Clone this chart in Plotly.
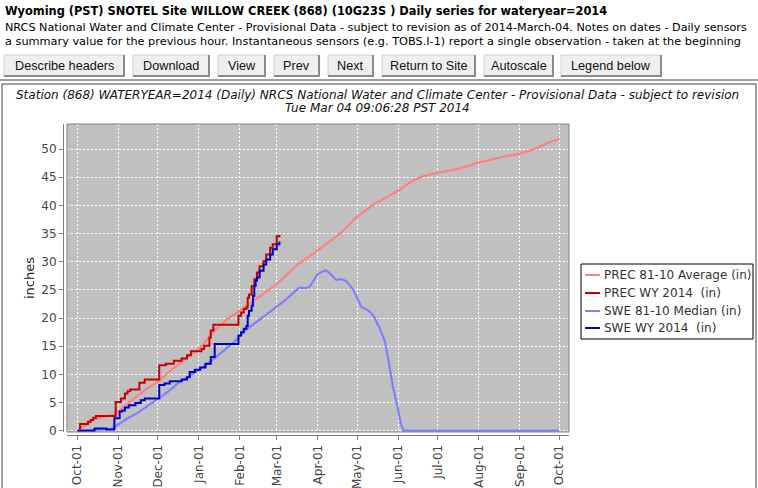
import plotly.graph_objects as go

# ---------------- data ----------------
prec_avg_dates = ["2013-10-01", "2013-10-08", "2013-10-14", "2013-10-29", "2013-11-08", "2013-11-21",
                  "2013-12-02", "2013-12-09", "2013-12-19", "2014-01-01", "2014-01-13", "2014-01-22",
                  "2014-02-01", "2014-02-08", "2014-02-15", "2014-03-01", "2014-03-14", "2014-03-18",
                  "2014-04-01", "2014-04-08", "2014-04-18", "2014-04-28", "2014-05-01", "2014-05-13",
                  "2014-05-23", "2014-06-01", "2014-06-12", "2014-06-20", "2014-07-01", "2014-07-15",
                  "2014-08-01", "2014-08-17", "2014-09-01", "2014-09-11", "2014-09-21", "2014-10-01"]
prec_avg = [0.0, 1.0, 2.0, 2.9, 4.8, 7.2,
            8.9, 10.4, 12.2, 14.5, 17.8, 19.7,
            21.3, 22.5, 23.6, 26.0, 28.9, 29.7,
            32.0, 33.3, 35.0, 37.4, 38.0, 40.1,
            41.4, 42.6, 44.4, 45.2, 45.8, 46.4,
            47.6, 48.5, 49.2, 49.9, 51.0, 51.8]

prec_wy_dates = ["2013-10-01", "2013-10-03", "2013-10-09", "2013-10-11", "2013-10-13", "2013-10-15",
                 "2013-10-30", "2013-11-03", "2013-11-06", "2013-11-08", "2013-11-10", "2013-11-17",
                 "2013-11-21", "2013-12-02", "2013-12-07", "2013-12-13", "2013-12-19", "2013-12-23",
                 "2013-12-26", "2014-01-03", "2014-01-05", "2014-01-09", "2014-01-10", "2014-01-12",
                 "2014-01-31", "2014-02-02", "2014-02-04", "2014-02-06", "2014-02-07", "2014-02-08",
                 "2014-02-10", "2014-02-12", "2014-02-14", "2014-02-16", "2014-02-19", "2014-02-21",
                 "2014-02-24", "2014-02-26", "2014-03-01", "2014-03-03"]
prec_wy = [0.0, 1.2, 1.6, 1.9, 2.3, 2.6,
           5.1, 5.7, 6.6, 7.0, 7.3, 8.5,
           9.1, 11.6, 11.9, 12.4, 12.8, 13.4,
           14.1, 14.5, 15.1, 16.5, 17.8, 18.8,
           20.4, 21.0, 21.6, 21.9, 23.6, 24.2,
           25.7, 26.9, 28.1, 29.2, 30.1, 31.3,
           32.5, 33.1, 34.5, 34.8]

swe_med_dates = ["2013-10-01", "2013-10-14", "2013-10-27", "2013-11-01", "2013-11-08", "2013-11-16",
                 "2013-11-23", "2013-12-01", "2013-12-09", "2013-12-16", "2013-12-24", "2014-01-01",
                 "2014-01-11", "2014-01-21", "2014-01-28", "2014-02-05", "2014-02-15", "2014-02-25",
                 "2014-03-07", "2014-03-14", "2014-03-18", "2014-03-23", "2014-03-26", "2014-04-01",
                 "2014-04-07", "2014-04-10", "2014-04-15", "2014-04-19", "2014-04-23", "2014-04-28",
                 "2014-05-04", "2014-05-09", "2014-05-13", "2014-05-18", "2014-05-22", "2014-05-25",
                 "2014-05-28", "2014-06-01", "2014-06-03", "2014-06-05", "2014-10-01"]
swe_med = [0.0, 0.1, 0.3, 1.1, 2.2, 3.2,
           4.4, 5.7, 7.0, 8.4, 9.6, 10.8,
           12.5, 14.5, 15.8, 17.8, 19.5, 21.3,
           23.1, 24.6, 25.4, 25.3, 25.6, 27.8,
           28.5, 28.0, 26.8, 26.9, 26.5, 25.0,
           22.0, 21.4, 20.5, 18.2, 15.8, 12.0,
           7.8, 3.7, 1.3, 0.0, 0.0]

swe_wy_dates = ["2013-10-01", "2013-10-14", "2013-10-23", "2013-10-29", "2013-11-02", "2013-11-04",
                "2013-11-06", "2013-11-09", "2013-11-14", "2013-11-18", "2013-11-21", "2013-12-02",
                "2013-12-06", "2013-12-10", "2013-12-19", "2013-12-23", "2013-12-25", "2013-12-29",
                "2014-01-02", "2014-01-06", "2014-01-10", "2014-01-13", "2014-01-31", "2014-02-02",
                "2014-02-04", "2014-02-06", "2014-02-07", "2014-02-08", "2014-02-10", "2014-02-11",
                "2014-02-12", "2014-02-13", "2014-02-14", "2014-02-16", "2014-02-19", "2014-02-21",
                "2014-02-24", "2014-02-26", "2014-03-01", "2014-03-03"]
swe_wy = [0.0, 0.4, 0.2, 2.2, 3.4, 3.6,
          4.1, 4.5, 4.9, 5.4, 5.7, 8.1,
          8.4, 8.8, 9.1, 9.5, 10.4, 10.8,
          11.2, 11.9, 13.1, 15.4, 16.9, 17.5,
          18.1, 18.6, 20.4, 21.3, 22.2, 23.9,
          25.7, 26.6, 27.2, 28.4, 29.5, 30.4,
          31.3, 32.2, 33.1, 33.6]

series_names = ["PREC 81-10 Average (in)", "PREC WY 2014  (in)",
                "SWE 81-10 Median (in)", "SWE WY 2014  (in)"]
series_colors = ["#FF8080", "#C80000", "#8080FF", "#0000C8"]

y_ticks = [0, 5, 10, 15, 20, 25, 30, 35, 40, 45, 50]

header_title = "Wyoming (PST) SNOTEL Site WILLOW CREEK (868) (10G23S ) Daily series for wateryear=2014"
header_line2 = ("NRCS National Water and Climate Center - Provisional Data - subject to revision as of "
                "2014-March-04. Notes on dates - Daily sensors")
header_line3 = ("a summary value for the previous hour. Instantaneous sensors (e.g. TOBS.I-1) report a "
                "single observation - taken at the beginning")
buttons = ["Describe headers", "Download", "View", "Prev", "Next", "Return to Site", "Autoscale", "Legend below"]
chart_title1 = ("Station (868) WATERYEAR=2014 (Daily) NRCS National Water and Climate Center - "
                "Provisional Data - subject to revision")
chart_title2 = "Tue Mar 04 09:06:28 PST 2014"

# ---------------- layout geometry (pixels) ----------------
W, H = 758, 488
PAPER_L, PAPER_R, PAPER_T, PAPER_B = 63, 569, 124, 435
PLOT_L, PLOT_B = 67, 432


def px(x):
    return (x - PAPER_L) / (PAPER_R - PAPER_L)


def py(y):
    return (PAPER_B - y) / (PAPER_B - PAPER_T)


fig = go.Figure()
widths = [2.2, 2, 2.2, 2]
shapes_line = ["linear", "hv", "linear", "hv"]
for (xs, ys), name, col, w, shp in zip(
        [(prec_avg_dates, prec_avg), (prec_wy_dates, prec_wy), (swe_med_dates, swe_med), (swe_wy_dates, swe_wy)],
        series_names, series_colors, widths, shapes_line):
    fig.add_trace(go.Scatter(x=xs, y=ys, name=name, mode="lines", showlegend=False,
                             line=dict(color=col, width=w, shape=shp)))

axis_font = dict(family="DejaVu Sans", size=12, color="#444444")
fig.update_layout(
    width=W, height=H,
    margin=dict(l=PAPER_L, r=W - PAPER_R, t=PAPER_T, b=H - PAPER_B, pad=0, autoexpand=False),
    paper_bgcolor="white", plot_bgcolor="#C0C0C0",
    font=dict(family="DejaVu Sans", size=12, color="#333333"),
    showlegend=False,
    xaxis=dict(type="date", domain=[px(PLOT_L), 1], anchor="free", position=0, automargin=False,
               range=["2013-09-23 03:00", "2014-10-08 09:00"],
               tick0="2013-10-01", dtick="M1", tickformat="%b-%d", tickangle=-90,
               showline=True, linecolor="#808080", linewidth=1,
               ticks="outside", ticklen=4, tickcolor="#808080",
               showgrid=True, gridcolor="white", gridwidth=1, griddash="2px,2px",
               zeroline=False, tickfont=axis_font),
    yaxis=dict(domain=[py(PLOT_B), 1], anchor="free", position=0, automargin=False,
               range=[-0.23, 54.45], tickmode="array", tickvals=y_ticks,
               showline=True, linecolor="#808080", linewidth=1,
               ticks="outside", ticklen=4, tickcolor="#808080",
               showgrid=True, gridcolor="white", gridwidth=1, griddash="2px,2px",
               zeroline=False, tickfont=axis_font,
               title=dict(text="inches", font=dict(family="DejaVu Sans", size=13, color="#222222"),
                          standoff=2)),
)

shapes = []
annos = []
# plot border
shapes.append(dict(type="rect", xref="paper", yref="paper", x0=px(PLOT_L), x1=1, y0=py(PLOT_B), y1=1,
                   line=dict(color="#808080", width=1), layer="above"))
# horizontal rule and chart frame
shapes.append(dict(type="line", xref="paper", yref="paper", x0=px(0), x1=px(758), y0=py(80), y1=py(80),
                   line=dict(color="#A0A0A0", width=2)))
shapes.append(dict(type="rect", xref="paper", yref="paper", x0=px(2), x1=px(756), y0=py(500), y1=py(84),
                   line=dict(color="#404040", width=1)))

# legend (drawn from the series names/colours)
shapes.append(dict(type="rect", xref="paper", yref="paper", x0=px(581), x1=px(753), y0=py(339), y1=py(264),
                   fillcolor="white", line=dict(color="black", width=1)))
leg_y = [275, 293, 311, 328]
for name, col, yy in zip(series_names, series_colors, leg_y):
    shapes.append(dict(type="line", xref="paper", yref="paper", x0=px(585), x1=px(600), y0=py(yy), y1=py(yy),
                       line=dict(color=col, width=2)))
    annos.append(dict(text=name, xref="paper", yref="paper", x=px(602), y=py(yy),
                      xanchor="left", yanchor="middle", showarrow=False,
                      font=dict(family="DejaVu Sans", size=12, color="#333333")))

# buttons
btn_x = [(4, 124), (133, 209), (218, 265), (274, 319), (328, 373), (382, 475), (484, 553), (561, 661)]
for label, (x0, x1) in zip(buttons, btn_x):
    shapes.append(dict(type="rect", xref="paper", yref="paper", x0=px(x0), x1=px(x1), y0=py(76), y1=py(55),
                       fillcolor="#EFEFEF", line=dict(color="#D0D0D0", width=1)))
    shapes.append(dict(type="path", xref="paper", yref="paper",
                       path=f"M {px(x1)},{py(55)} L {px(x1)},{py(76)} L {px(x0)},{py(76)}",
                       line=dict(color="#8A8A8A", width=2)))
    annos.append(dict(text=label, xref="paper", yref="paper", x=px((x0 + x1) / 2), y=py(66),
                      xanchor="center", yanchor="middle", showarrow=False,
                      font=dict(family="Liberation Sans", size=12.7, color="#111111")))

# header texts
annos.append(dict(text=f"<b>{header_title}</b>", xref="paper", yref="paper", x=px(3), y=py(11),
                  xanchor="left", yanchor="middle", showarrow=False,
                  font=dict(family="DejaVu Sans", size=11.4, color="black")))
annos.append(dict(text=header_line2, xref="paper", yref="paper", x=px(3), y=py(28),
                  xanchor="left", yanchor="middle", showarrow=False,
                  font=dict(family="DejaVu Sans", size=11.2, color="black")))
annos.append(dict(text=header_line3, xref="paper", yref="paper", x=px(3), y=py(41),
                  xanchor="left", yanchor="middle", showarrow=False,
                  font=dict(family="DejaVu Sans", size=11.3, color="black")))
# chart titles
annos.append(dict(text=chart_title1, xref="paper", yref="paper", x=px(377), y=py(95),
                  xanchor="center", yanchor="middle", showarrow=False,
                  font=dict(family="DejaVu Sans", size=12, color="#111111", style="italic")))
annos.append(dict(text=chart_title2, xref="paper", yref="paper", x=px(377), y=py(108),
                  xanchor="center", yanchor="middle", showarrow=False,
                  font=dict(family="DejaVu Sans", size=12, color="#111111", style="italic")))

fig.update_layout(shapes=shapes, annotations=annos)
fig.write_html("out.html", config={"displayModeBar": False},
               post_script="document.body.style.margin='0';document.body.style.overflow='hidden';")
